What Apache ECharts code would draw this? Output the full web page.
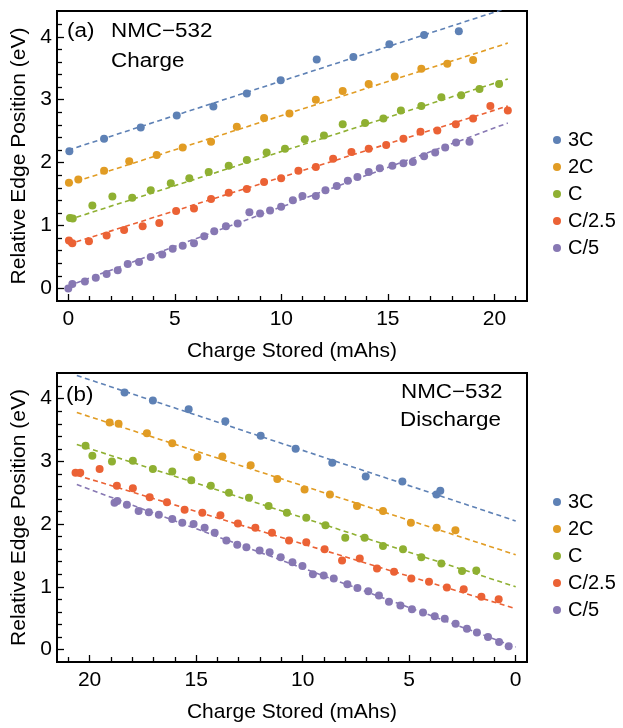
<!DOCTYPE html>
<html>
<head>
<meta charset="utf-8">
<script src="https://cdn.jsdelivr.net/npm/echarts@6/dist/echarts.min.js"></script>
<style>
  html, body { margin: 0; padding: 0; background: #fff; }
  #chart { width: 623px; height: 728px; }
</style>
</head>
<body>
<div id="chart"></div>
<script>
// ---- Series names and tick values ----
const rateNames = ['3C', '2C', 'C', 'C/2.5', 'C/5'];
const xMajorTicks = [0, 5, 10, 15, 20];
const xMinorTicks = [1, 2, 3, 4, 6, 7, 8, 9, 11, 12, 13, 14, 16, 17, 18, 19, 21];
const yMajorTicks = [0, 1, 2, 3, 4];
const yMinorTicks = [0.2, 0.4, 0.6, 0.8, 1.2, 1.4, 1.6, 1.8, 2.2, 2.4, 2.6, 2.8, 3.2, 3.4, 3.6, 3.8, 4.2];

// ---- (a) Charge: edge position vs. charge stored ----
const charge3C = [[0.05,2.18],[1.68,2.38],[3.40,2.56],[5.09,2.75],[6.81,2.89],[8.38,3.10],[9.97,3.31],[11.66,3.64],[13.38,3.68],[15.07,3.88],[16.70,4.03],[18.33,4.09]];
const charge2C = [[0.03,1.68],[0.47,1.73],[1.68,1.87],[2.86,2.02],[4.15,2.12],[5.37,2.24],[6.70,2.33],[7.91,2.57],[9.19,2.71],[10.38,2.78],[11.62,3.00],[12.88,3.14],[14.10,3.25],[15.32,3.37],[16.57,3.49],[17.79,3.57],[19.00,3.63]];
const chargeC = [[0.08,1.12],[0.21,1.11],[1.13,1.32],[2.07,1.46],[3.00,1.44],[3.87,1.56],[4.81,1.67],[5.68,1.75],[6.59,1.85],[7.53,1.95],[8.38,2.04],[9.31,2.16],[10.17,2.22],[11.10,2.37],[12.00,2.43],[12.88,2.61],[13.93,2.63],[14.79,2.70],[15.61,2.83],[16.57,2.90],[17.51,3.04],[18.44,3.07],[19.30,3.17],[20.22,3.25]];
const chargeC25 = [[0.03,0.76],[0.19,0.72],[0.97,0.75],[1.80,0.84],[2.62,0.93],[3.49,0.99],[4.27,1.04],[5.06,1.23],[5.90,1.27],[6.70,1.42],[7.53,1.52],[8.38,1.58],[9.19,1.69],[9.99,1.75],[10.80,1.87],[11.62,1.93],[12.43,2.06],[13.29,2.17],[14.10,2.22],[14.92,2.28],[15.73,2.38],[16.53,2.49],[17.32,2.51],[18.19,2.61],[19.00,2.70],[19.81,2.90],[20.63,2.83]];
const chargeC5 = [[0.00,0.00],[0.19,0.07],[0.78,0.11],[1.29,0.17],[1.80,0.23],[2.32,0.29],[2.79,0.39],[3.32,0.42],[3.87,0.50],[4.41,0.54],[4.90,0.63],[5.37,0.68],[5.90,0.72],[6.38,0.83],[6.85,0.91],[7.40,0.99],[7.95,1.03],[8.50,1.21],[9.00,1.19],[9.47,1.24],[9.99,1.30],[10.54,1.40],[10.99,1.47],[11.62,1.47],[12.07,1.56],[12.60,1.63],[13.12,1.71],[13.57,1.77],[14.10,1.85],[14.62,1.91],[15.21,1.95],[15.73,1.99],[16.17,2.01],[16.70,2.10],[17.22,2.16],[17.69,2.24],[18.20,2.32],[18.83,2.33]];

// Linear fits (end points of each dashed line)
const chargeFit3C  = [[0, 2.20], [20.63, 4.46]];
const chargeFit2C  = [[0, 1.66], [20.63, 3.90]];
const chargeFitC   = [[0, 1.09], [20.63, 3.33]];
const chargeFitC25 = [[0, 0.70], [20.63, 2.90]];
const chargeFitC5  = [[0, 0.04], [20.63, 2.63]];

// ---- (b) Discharge ----
const discharge3C = [[18.36,4.10],[17.03,3.97],[15.35,3.83],[13.63,3.64],[11.97,3.41],[10.33,3.20],[8.61,2.98],[7.04,2.76],[5.32,2.68],[3.72,2.47],[3.54,2.53]];
const discharge2C = [[19.06,3.62],[18.64,3.60],[17.31,3.45],[16.12,3.29],[14.94,3.07],[13.77,3.08],[12.44,2.94],[11.19,2.72],[9.91,2.55],[8.72,2.47],[7.45,2.29],[6.23,2.21],[4.92,2.02],[3.71,1.94],[2.83,1.90]];
const dischargeC = [[20.19,3.25],[19.87,3.09],[18.95,3.00],[17.97,3.01],[17.03,2.88],[16.12,2.84],[15.23,2.70],[14.31,2.61],[13.46,2.50],[12.52,2.42],[11.60,2.29],[10.74,2.18],[9.83,2.10],[8.93,1.98],[8.00,1.78],[7.09,1.78],[6.23,1.65],[5.29,1.60],[4.43,1.47],[3.49,1.37],[2.52,1.25],[1.85,1.26]];
const dischargeC25 = [[20.66,2.82],[20.44,2.82],[19.53,2.88],[18.72,2.61],[17.97,2.57],[17.18,2.43],[16.37,2.35],[15.54,2.23],[14.71,2.18],[13.86,2.14],[13.04,2.01],[12.22,1.94],[11.44,1.86],[10.64,1.74],[9.83,1.71],[8.97,1.60],[8.15,1.42],[7.32,1.45],[6.51,1.29],[5.71,1.24],[4.90,1.13],[4.07,1.08],[3.23,0.99],[2.44,0.96],[1.61,0.84],[0.80,0.80]];
const dischargeC5 = [[18.83,2.34],[18.70,2.37],[18.25,2.31],[17.70,2.21],[17.22,2.19],[16.75,2.15],[16.12,2.08],[15.65,2.02],[15.12,2.00],[14.60,1.94],[14.13,1.86],[13.58,1.74],[13.07,1.67],[12.64,1.63],[12.02,1.58],[11.55,1.55],[11.03,1.47],[10.48,1.39],[10.01,1.33],[9.52,1.20],[9.01,1.18],[8.54,1.13],[7.90,1.04],[7.43,0.98],[6.92,0.93],[6.42,0.86],[5.95,0.76],[5.41,0.70],[4.87,0.64],[4.35,0.59],[3.80,0.53],[3.33,0.49],[2.82,0.41],[2.29,0.33],[1.82,0.27],[1.30,0.20],[0.78,0.12],[0.33,0.05]];

const dischargeFit3C  = [[20.6, 4.37], [0, 2.05]];
const dischargeFit2C  = [[20.6, 3.78], [0, 1.51]];
const dischargeFitC   = [[20.6, 3.27], [0, 1.00]];
const dischargeFitC25 = [[20.6, 2.78], [0, 0.65]];
const dischargeFitC5  = [[20.6, 2.63], [0, 0.04]];

// ---- Styling ----
const FONT = '"Liberation Sans", Arial, Helvetica, sans-serif';
const COLORS = ['#5E81B5', '#E19C24', '#8FB032', '#EB6235', '#8778B3'];
const X_MIN = -0.53, X_MAX = 21.53;
const Y_MIN = -0.2, Y_MAX = 4.41;

const chargePoints = [charge3C, charge2C, chargeC, chargeC25, chargeC5];
const chargeFits = [chargeFit3C, chargeFit2C, chargeFitC, chargeFitC25, chargeFitC5];
const dischargePoints = [discharge3C, discharge2C, dischargeC, dischargeC25, dischargeC5];
const dischargeFits = [dischargeFit3C, dischargeFit2C, dischargeFitC, dischargeFitC25, dischargeFitC5];

const labelStyle = { color: '#000', fontSize: 21, fontFamily: FONT };

// Each frame side gets two stacked axes: one for major ticks + labels, one for minor ticks
function xAxisPair(gridIndex, inverse) {
  const common = { type: 'value', gridIndex, position: 'bottom', min: X_MIN, max: X_MAX, inverse,
                   splitLine: { show: false } };
  return [
    Object.assign({}, common, {
      axisLine: { show: true, onZero: false, lineStyle: { color: '#000', width: 2 } },
      axisTick: { show: true, inside: true, length: 7, customValues: xMajorTicks,
                  lineStyle: { color: '#000', width: 1.3 } },
      axisLabel: Object.assign({ show: true, margin: 8, customValues: xMajorTicks }, labelStyle),
      name: 'Charge Stored (mAhs)', nameLocation: 'middle', nameGap: 40,
      nameTextStyle: labelStyle
    }),
    Object.assign({}, common, {
      axisLine: { show: false, onZero: false },
      axisTick: { show: true, inside: true, length: 5, customValues: xMinorTicks,
                  lineStyle: { color: '#000', width: 1.3 } },
      axisLabel: { show: false }
    })
  ];
}

function yAxisPair(gridIndex) {
  const common = { type: 'value', gridIndex, position: 'left', min: Y_MIN, max: Y_MAX,
                   splitLine: { show: false } };
  return [
    Object.assign({}, common, {
      axisLine: { show: true, onZero: false, lineStyle: { color: '#000', width: 2 } },
      axisTick: { show: true, inside: true, length: 7, customValues: yMajorTicks,
                  lineStyle: { color: '#000', width: 1.3 } },
      axisLabel: Object.assign({ show: true, margin: 5, customValues: yMajorTicks }, labelStyle),
      name: 'Relative Edge Position (eV)', nameLocation: 'middle', nameGap: 20,
      nameTextStyle: labelStyle
    }),
    Object.assign({}, common, {
      axisLine: { show: false, onZero: false },
      axisTick: { show: true, inside: true, length: 5, customValues: yMinorTicks,
                  lineStyle: { color: '#000', width: 1.3 } },
      axisLabel: { show: false }
    })
  ];
}

function panelSeries(points, fits, axisIndex) {
  const out = [];
  fits.forEach((fit, i) => {
    out.push({
      type: 'line', name: rateNames[i] + ' fit', xAxisIndex: axisIndex, yAxisIndex: axisIndex,
      data: fit, symbol: 'none', silent: true, clip: true,
      lineStyle: { color: COLORS[i], width: 1.6, type: [5, 3.5] }
    });
  });
  points.forEach((pts, i) => {
    out.push({
      type: 'scatter', name: rateNames[i], xAxisIndex: axisIndex, yAxisIndex: axisIndex,
      data: pts, symbol: 'circle', symbolSize: 8,
      itemStyle: { color: COLORS[i], opacity: 1 }
    });
  });
  return out;
}

function legendAt(top) {
  return {
    data: rateNames, orient: 'vertical', left: 548, top,
    icon: 'circle', itemWidth: 8, itemHeight: 8, itemGap: 7,
    selectedMode: false,
    textStyle: { color: '#000', fontSize: 20, fontFamily: FONT, lineHeight: 20, padding: [0, 0, 0, 2] }
  };
}

// Panel annotations, slightly widened to the figure's lettering
function note(text, x, y) {
  return { type: 'text', x, y, scaleX: 1.12, scaleY: 1,
           style: { text, fill: '#000', font: '20px ' + FONT, verticalAlign: 'middle', align: 'left' } };
}

const chart = echarts.init(document.getElementById('chart'), null, { renderer: 'canvas' });
chart.setOption({
  animation: false,
  backgroundColor: '#fff',
  color: COLORS,
  grid: [
    { left: 57, top: 11, width: 470, height: 290, show: true, borderColor: '#000', borderWidth: 2,
      backgroundColor: 'transparent' },
    { left: 57, top: 373, width: 470, height: 289, show: true, borderColor: '#000', borderWidth: 2,
      backgroundColor: 'transparent' }
  ],
  xAxis: [...xAxisPair(0, false), ...xAxisPair(1, true)],
  yAxis: [...yAxisPair(0), ...yAxisPair(1)],
  legend: [legendAt(125), legendAt(487)],
  series: [...panelSeries(chargePoints, chargeFits, 0), ...panelSeries(dischargePoints, dischargeFits, 2)],
  graphic: [
    note('(a)', 67, 31),
    note('NMC\u2212532', 111, 31),
    note('Charge', 111, 61),
    note('(b)', 66, 395),
    note('NMC\u2212532', 401, 392),
    note('Discharge', 400, 420)
  ]
});
</script>
</body>
</html>
